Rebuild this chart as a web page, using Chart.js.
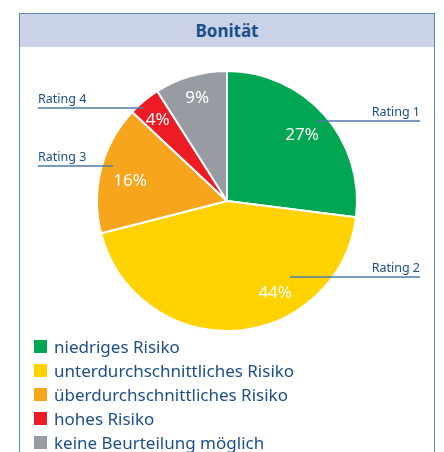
<!DOCTYPE html>
<html>
<head>
<meta charset="utf-8">
<script src="https://cdn.jsdelivr.net/npm/chart.js@4/dist/chart.umd.min.js"></script>
<style>
body { margin: 0; width: 444px; height: 452px; background: #fff; position: relative; overflow: hidden; font-family: "Noto Sans", sans-serif; }
#frame { position: absolute; left: 19px; top: 13px; width: 414px; height: 470px; border: 1.5px solid #5a86b8; }
#head { position: absolute; left: 0; top: 0; right: 0; height: 33px; background: #c9d2e6; color: #1b4f8a; font-weight: bold; font-size: 17px; text-align: center; line-height: 33px; }
#pie { position: absolute; left: 0; top: 0; }
#legend { position: absolute; left: 34px; top: 334px; }
.row { height: 24px; display: flex; align-items: center; color: #1b4f8a; font-size: 17px; }
.box { width: 13px; height: 13px; margin-right: 7px; }
</style>
</head>
<body>
<div id="frame"><div id="head">Bonität</div></div>
<canvas id="pie" width="444" height="452"></canvas>
<div id="legend"></div>
<script>
const categories = ['niedriges Risiko', 'unterdurchschnittliches Risiko', 'überdurchschnittliches Risiko', 'hohes Risiko', 'keine Beurteilung möglich'];
const ratings = ['Rating 1', 'Rating 2', 'Rating 3', 'Rating 4', ''];
const shares = [27, 44, 16, 4, 9];
const colors = ['#00a651', '#ffd200', '#f7a51c', '#ed1c24', '#969ca2'];

// legend as html, one item per line
const legend = document.getElementById('legend');
categories.forEach((c, i) => {
    const row = document.createElement('div');
    row.className = 'row';
    row.innerHTML = '<span class="box" style="background:' + colors[i] + '"></span>' + c;
    legend.appendChild(row);
});

// tweaks for label placement (angle shift in degrees, radius factor)
const pctPos = [[0, 0.77], [-24, 0.8], [-3, 0.76], [-1, 0.82], [0, 0.82]];
const callPos = [[0, 0.92], [-36, 0.76], [3, 0.92], [-2, 0.96], null];
const callY = [121, 277, 166, 108];

const labelPlugin = {
    id: 'labels',
    afterDatasetsDraw(chart) {
        const ctx = chart.ctx;
        const arcs = chart.getDatasetMeta(0).data;
        ctx.save();
        arcs.forEach((arc, i) => {
            const mid = (arc.startAngle + arc.endAngle) / 2;
            let a = mid + pctPos[i][0] * Math.PI / 180;
            let r = arc.outerRadius * pctPos[i][1];
            ctx.fillStyle = '#fff';
            ctx.font = '17px "Noto Sans"';
            ctx.textAlign = 'center';
            ctx.textBaseline = 'middle';
            ctx.fillText(shares[i] + '%', arc.x + Math.cos(a) * r, arc.y + Math.sin(a) * r);

            if (!callPos[i]) return;
            a = mid + callPos[i][0] * Math.PI / 180;
            r = arc.outerRadius * callPos[i][1];
            const ex = arc.x + Math.cos(a) * r;
            const y = callY[i];
            const right = Math.cos(a) > 0;
            const tx = right ? 420 : 38;
            ctx.strokeStyle = '#4f7aa8';
            ctx.lineWidth = 1.5;
            ctx.beginPath();
            ctx.moveTo(tx, y);
            ctx.lineTo(ex, y);
            ctx.stroke();
            ctx.fillStyle = '#1b4f8a';
            ctx.font = '12.5px "Noto Sans"';
            ctx.textAlign = right ? 'right' : 'left';
            ctx.textBaseline = 'alphabetic';
            ctx.fillText(ratings[i], tx, y - 5);
        });
        ctx.restore();
    }
};

new Chart(document.getElementById('pie'), {
    type: 'pie',
    data: {
        labels: categories,
        datasets: [{
            data: shares,
            backgroundColor: colors,
            borderColor: '#fff',
            borderWidth: 2
        }]
    },
    options: {
        responsive: false,
        animation: false,
        layout: { padding: { left: 96, right: 86, top: 70, bottom: 120 } },
        plugins: { legend: { display: false }, tooltip: { enabled: false } }
    },
    plugins: [labelPlugin]
});
</script>
</body>
</html>
